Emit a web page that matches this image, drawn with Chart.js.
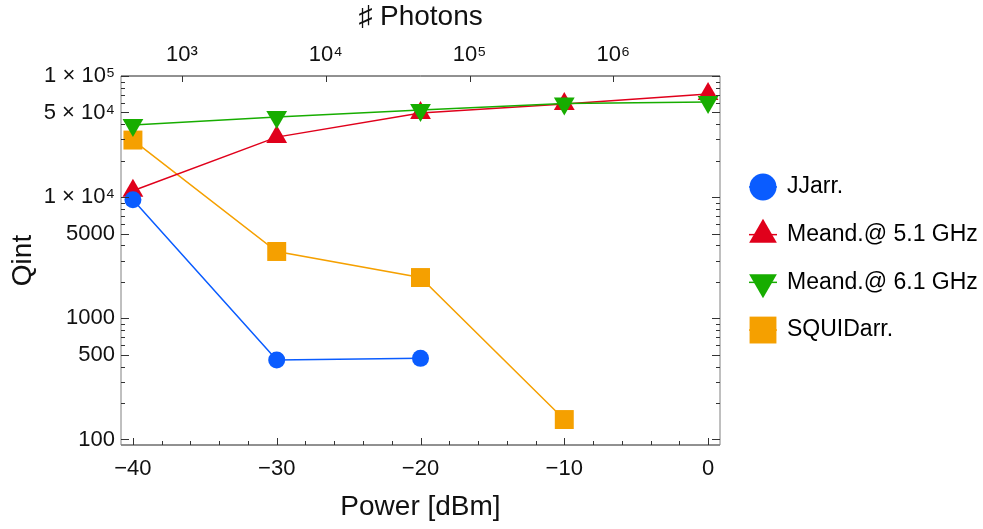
<!DOCTYPE html>
<html>
<head>
<meta charset="utf-8">
<script src="https://cdn.jsdelivr.net/npm/chart.js@4.4.0/dist/chart.umd.min.js"></script>
<style>
  html, body { margin: 0; padding: 0; background: #fff; }
  #wrap { width: 983px; height: 529px; position: relative; }
</style>
</head>
<body>
<div id="wrap"><canvas id="qChart"></canvas></div>
<script>
// data
const power = [-40, -30, -20, -10, 0];
const jjArr = [9500, 452, 467, null, null];
const meand51 = [11300, 31300, 49400, 58800, 70900];
const meand61 = [39400, 45800, 52500, 59300, 61000];
const squidArr = [29600, 3560, 2170, 146, null];
const seriesNames = ['JJarr.', 'Meand.@ 5.1 GHz', 'Meand.@ 6.1 GHz', 'SQUIDarr.'];

// tick labels
const powerTicks = [-40, -30, -20, -10, 0];
const powerTickLabels = ['\u221240', '\u221230', '\u221220', '\u221210', '0'];
const photonTicks = [1e3, 1e4, 1e5, 1e6];
const photonTickLabels = ['10\u00b3', '10\u2074', '10\u2075', '10\u2076'];
const qTicks = [100, 500, 1000, 5000, 1e4, 5e4, 1e5];
const qTickLabels = ['100', '500', '1000', '5000', '1 \u00d7 10\u2074', '5 \u00d7 10\u2074', '1 \u00d7 10\u2075'];

// photon number at -40 dBm (top axis is 10 dB per decade)
const photonsAtMinus40 = 456;
const photonsAt = (p) => photonsAtMinus40 * Math.pow(10, (p + 40) / 10);

const xMin = -40.83, xMax = 0.83;
const qMin = 90, qMax = 1e5;
const FONT = "'Liberation Sans', Arial, sans-serif";

// legend marker sizes (bigger than in the plot)
const legendRadius = [13.5, 16, 16, 19];
const legendGap = 47.7;

function pts(ys) {
  const out = [];
  ys.forEach((y, i) => { if (y !== null) out.push({ x: power[i], y: y }); });
  return out;
}

// inward frame ticks like the original plot
const frameTicks = {
  id: 'frameTicks',
  afterDraw(chart) {
    const { ctx, chartArea: a, scales } = chart;
    ctx.save();
    ctx.lineWidth = 1;

    // frame
    ctx.strokeStyle = '#222';
    ctx.beginPath();
    ctx.moveTo(a.left, a.top); ctx.lineTo(a.right, a.top);
    ctx.moveTo(a.left, a.bottom); ctx.lineTo(a.right, a.bottom);
    ctx.stroke();
    ctx.strokeStyle = '#808080';
    ctx.beginPath();
    ctx.moveTo(a.left, a.top); ctx.lineTo(a.left, a.bottom);
    ctx.moveTo(a.right, a.top); ctx.lineTo(a.right, a.bottom);
    ctx.stroke();

    ctx.strokeStyle = '#333';
    ctx.beginPath();
    // bottom ticks
    scales.x.ticks.forEach(t => {
      const px = Math.round(scales.x.getPixelForValue(t.value)) + 0.5;
      const len = powerTicks.includes(t.value) ? 7 : 4;
      ctx.moveTo(px, a.bottom); ctx.lineTo(px, a.bottom - len);
    });
    // top ticks
    scales.x2.ticks.forEach(t => {
      const px = Math.round(scales.x2.getPixelForValue(t.value)) + 0.5;
      ctx.moveTo(px, a.top); ctx.lineTo(px, a.top + 6);
    });
    // left and right ticks
    scales.y.ticks.forEach(t => {
      const py = Math.round(scales.y.getPixelForValue(t.value)) + 0.5;
      const len = qTicks.includes(t.value) ? 8 : 4;
      ctx.moveTo(a.left, py); ctx.lineTo(a.left + len, py);
      ctx.moveTo(a.right, py); ctx.lineTo(a.right - len, py);
    });
    ctx.stroke();
    ctx.restore();
  }
};

// legend to the right of the frame, marker with a short line through it
const sideLegend = {
  id: 'sideLegend',
  afterDraw(chart) {
    const { ctx, chartArea: a } = chart;
    const mid = (a.top + a.bottom) / 2 - 2;
    const mx = a.right + 43;
    ctx.save();
    chart.data.datasets.forEach((ds, i) => {
      const y = mid + (i - 1.5) * legendGap;
      ctx.strokeStyle = ds.borderColor;
      ctx.lineWidth = 1.5;
      ctx.beginPath();
      ctx.moveTo(mx - 14, y); ctx.lineTo(mx + 14, y);
      ctx.stroke();
      ctx.fillStyle = ds.backgroundColor;
      Chart.helpers.drawPoint(ctx, {
        pointStyle: ds.pointStyle,
        rotation: ds.pointRotation || 0,
        radius: legendRadius[i],
        borderWidth: 0
      }, mx, y);
      ctx.fillStyle = '#000';
      ctx.font = '23px ' + FONT;
      ctx.textBaseline = 'middle';
      ctx.textAlign = 'left';
      ctx.fillText(ds.label, a.right + 67, y);
    });
    ctx.restore();
  }
};

const colors = {
  blue: '#0a5cff',
  red: '#e0001b',
  green: '#17ad00',
  orange: '#f5a000'
};

new Chart(document.getElementById('qChart'), {
  type: 'line',
  data: {
    datasets: [
      {
        label: seriesNames[0], data: pts(jjArr), order: 0,
        borderColor: colors.blue, backgroundColor: colors.blue,
        pointStyle: 'circle', pointRadius: 8.5, borderWidth: 1.5, pointBorderWidth: 0
      },
      {
        label: seriesNames[1], data: pts(meand51), order: 2,
        borderColor: colors.red, backgroundColor: colors.red,
        pointStyle: 'triangle', pointRadius: 12, borderWidth: 1.5, pointBorderWidth: 0
      },
      {
        label: seriesNames[2], data: pts(meand61), order: 1,
        borderColor: colors.green, backgroundColor: colors.green,
        pointStyle: 'triangle', pointRotation: 180, pointRadius: 12, borderWidth: 1.5, pointBorderWidth: 0
      },
      {
        label: seriesNames[3], data: pts(squidArr), order: 3,
        borderColor: colors.orange, backgroundColor: colors.orange,
        pointStyle: 'rect', pointRadius: 13.4, borderWidth: 1.5, pointBorderWidth: 0
      }
    ]
  },
  options: {
    responsive: true,
    maintainAspectRatio: false,
    animation: false,
    layout: { padding: { right: 263 } },
    plugins: {
      tooltip: { enabled: false },
      legend: { display: false }
    },
    scales: {
      x: {
        type: 'linear',
        position: 'bottom',
        min: xMin, max: xMax,
        grid: { display: false, drawTicks: false },
        border: { display: false },
        afterBuildTicks: (s) => {
          const t = [];
          for (let v = -40; v <= 0; v += 2) t.push({ value: v });
          s.ticks = t;
        },
        afterFit: (s) => { s.height = 84; },
        ticks: {
          autoSkip: false, maxRotation: 0, padding: 11,
          color: '#111', font: { family: FONT, size: 22 },
          callback: (v) => {
            const i = powerTicks.indexOf(v);
            return i >= 0 ? powerTickLabels[i] : '';
          }
        },
        title: {
          display: true, text: 'Power [dBm]', color: '#111',
          font: { family: FONT, size: 28 }, padding: { top: 0, bottom: 5 }
        }
      },
      x2: {
        type: 'logarithmic',
        position: 'top',
        min: photonsAt(xMin), max: photonsAt(xMax),
        grid: { display: false, drawTicks: false },
        border: { display: false },
        afterBuildTicks: (s) => { s.ticks = photonTicks.map(v => ({ value: v })); },
        afterFit: (s) => { s.height = 76; },
        ticks: {
          autoSkip: false, maxRotation: 0, padding: 8,
          color: '#111', font: { family: FONT, size: 22 },
          callback: (v) => {
            const i = photonTicks.indexOf(v);
            return i >= 0 ? photonTickLabels[i] : '';
          }
        },
        title: {
          display: true, text: '\u266f Photons', color: '#111',
          font: { family: FONT, size: 28 }, padding: { top: 0, bottom: 0 }
        }
      },
      y: {
        type: 'logarithmic',
        position: 'left',
        min: qMin, max: qMax,
        grid: { display: false, drawTicks: false },
        border: { display: false },
        afterBuildTicks: (s) => {
          const t = [];
          [100, 1000, 10000].forEach(d => {
            for (let m = 1; m <= 9; m++) t.push({ value: m * d });
          });
          t.push({ value: 1e5 });
          s.ticks = t;
        },
        afterFit: (s) => { s.width = 121; },
        ticks: {
          autoSkip: false, padding: 6,
          color: '#111', font: { family: FONT, size: 22 },
          callback: (v) => {
            const i = qTicks.indexOf(v);
            return i >= 0 ? qTickLabels[i] : '';
          }
        },
        title: {
          display: true, text: 'Qint', color: '#111',
          font: { family: FONT, size: 28 }, padding: { top: 6, bottom: 0 }
        }
      }
    }
  },
  plugins: [frameTicks, sideLegend]
});
</script>
</body>
</html>
